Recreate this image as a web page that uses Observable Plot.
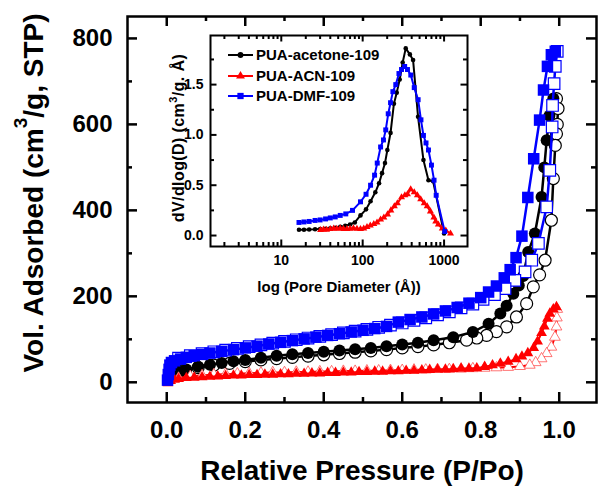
<!DOCTYPE html>
<html><head><meta charset="utf-8">
<script src="https://cdn.jsdelivr.net/npm/d3@7"></script>
<script src="https://cdn.jsdelivr.net/npm/@observablehq/plot@0.6"></script>
<style>
body{margin:0;background:#fff}
#chart{position:relative;width:598px;height:492px;overflow:hidden}
</style>
</head><body><div id="chart"></div>
<script>
// ---------------- Main isotherm data (P/Po, Vol. adsorbed) ----------------
const acetoneAdsP = [0.005,0.01,0.02,0.035,0.05,0.08,0.11,0.14,0.17,0.2,0.24,0.28,0.32,0.36,0.4,0.44,0.48,0.52,0.56,0.6,0.64,0.68,0.73,0.78,0.82,0.85,0.866,0.883,0.897,0.908,0.921,0.938,0.955,0.962,0.968,0.975,0.985];
const acetoneAdsV = [8,14,20,26,30,36,41,45,49,52,57,62,65,68,71,74,77,80,84,88,92,98,105,117,136,160,178,206,225,247,303,346,431,500,563,620,660];
const acetoneDesP = [0.993,0.997,0.995,0.993,0.99,0.985,0.98,0.964,0.95,0.934,0.917,0.891,0.866,0.84,0.815,0.79,0.764,0.72,0.68,0.64,0.6,0.56,0.52,0.48,0.44,0.4,0.36,0.32,0.28,0.24,0.2,0.16,0.12,0.08,0.04];
const acetoneDesV = [660,637,600,578,551,474,377,284,250,222,183,152,129,118,109,103,98,92,87,83,80,76,73,70,67,64,61,58,55,52,48,44,40,34,27];

const acnAdsP = [0.003,0.01,0.02,0.03,0.05,0.07,0.09,0.11,0.13,0.15,0.17,0.19,0.21,0.23,0.25,0.27,0.29,0.31,0.33,0.35,0.37,0.39,0.41,0.43,0.45,0.47,0.49,0.51,0.53,0.55,0.57,0.59,0.61,0.63,0.65,0.67,0.69,0.71,0.73,0.75,0.77,0.79,0.81,0.83,0.85,0.87,0.89,0.905,0.92,0.935,0.945,0.955,0.962,0.97,0.976,0.985,0.993];
const acnAdsV = [-2,3,6,8,10,11,12,13,14,15,16,16,17,17,18,18,19,19,20,20,21,21,22,22,23,23,24,24,25,25,26,26,27,27,28,29,30,30,31,32,32,33,36,40,44,48,54,60,68,80,95,115,130,148,160,170,175];
const acnDesP = [0.995,0.994,0.993,0.989,0.98,0.968,0.955,0.94,0.925,0.9,0.87,0.84,0.81,0.78,0.75,0.72,0.69,0.66,0.63,0.6,0.57,0.54,0.51,0.48,0.45,0.42,0.39,0.36,0.33,0.3,0.27,0.24,0.21,0.18,0.15,0.12,0.09,0.06,0.03];
const acnDesV = [170,150,129,105,82,67,55,46,40,37,35,34,33,32,31,30,30,29,29,28,28,27,27,26,26,25,25,24,24,23,23,22,21,20,19,18,16,14,10];

const dmfAdsP = [0.002,0.004,0.006,0.008,0.012,0.02,0.035,0.05,0.07,0.09,0.11,0.14,0.17,0.2,0.23,0.26,0.29,0.32,0.35,0.38,0.41,0.44,0.47,0.5,0.53,0.56,0.59,0.62,0.65,0.68,0.71,0.74,0.77,0.8,0.82,0.84,0.86,0.875,0.89,0.905,0.92,0.935,0.95,0.96,0.97,0.98,0.99];
const dmfAdsV = [5,18,30,40,46,50,54,58,62,65,68,72,76,80,84,89,93,97,101,105,109,113,117,121,125,130,140,146,152,159,166,174,184,197,210,224,243,262,290,340,430,520,610,680,735,762,770];
const dmfDesP = [0.995,0.99,0.987,0.983,0.982,0.976,0.968,0.947,0.93,0.913,0.887,0.862,0.835,0.806,0.78,0.75,0.72,0.69,0.66,0.63,0.6,0.57,0.54,0.51,0.48,0.45,0.42,0.39,0.36,0.33,0.3,0.27,0.24,0.21,0.18,0.15,0.12,0.09,0.06,0.03];
const dmfDesV = [770,735,695,644,594,493,408,323,284,257,237,218,204,193,182,173,164,157,150,144,138,133,128,123,119,115,111,107,103,99,95,91,87,83,79,75,71,67,62,56];

// ---------------- Inset: pore size distribution ----------------
const acetonePsdD = [16.5,19,22,26,30,35,40,46,53,61,70,80,94,110,125,143,159,173,188,201,220,242,262,285,310,338,380,416,479,558,643,733,1000];
const acetonePsdV = [0.057,0.058,0.06,0.062,0.065,0.068,0.072,0.078,0.086,0.097,0.11,0.13,0.2,0.26,0.34,0.43,0.52,0.62,0.72,0.85,1.02,1.31,1.42,1.55,1.72,1.86,1.8,1.745,1.18,0.75,0.55,0.54,0.02];
const acnPsdD = [30.4,33,36,40,44,48,53,58,64,70,77,85,94,103,113,124,137,150,166,182,202,222,245,267,300,330,355,389,430,470,516,570,620,680,750,790,850,950,1050,1200];
const acnPsdV = [0.055,0.06,0.058,0.064,0.07,0.068,0.072,0.066,0.064,0.068,0.072,0.068,0.064,0.07,0.085,0.1,0.115,0.13,0.16,0.18,0.21,0.25,0.29,0.32,0.38,0.4,0.41,0.46,0.43,0.4,0.36,0.32,0.29,0.24,0.18,0.14,0.11,0.07,0.05,0.02];
const dmfPsdD = [16.5,19,22,26,30,35,40,46,53,62,75,94,110,125,140,151,166,180,192,206,220,235,255,279,300,328,355,390,430,480,520,558,600,643,700,753,800,1018];
const dmfPsdV = [0.13,0.135,0.14,0.15,0.155,0.165,0.175,0.185,0.2,0.215,0.25,0.335,0.41,0.5,0.6,0.72,0.88,0.95,1.05,1.21,1.32,1.43,1.5,1.61,1.65,1.68,1.65,1.595,1.47,1.35,1.15,0.995,0.92,0.85,0.7,0.55,0.4,0.04];

// ---------------- Ticks & labels ----------------
const xMajor = [0, 0.2, 0.4, 0.6, 0.8, 1.0];
const xMinor = [0.1, 0.3, 0.5, 0.7, 0.9];
const yMajor = [0, 200, 400, 600, 800];
const yMinor = [100, 300, 500, 700];
const inXMajor = [10, 100, 1000];
const inXMinor = [2,3,4,5,6,7,8,9,20,30,40,50,60,70,80,90,200,300,400,500,600,700,800,900];
const inYMajor = [0, 0.5, 1.0, 1.5];
const inYMinor = [0.25, 0.75, 1.25, 1.75];
const seriesNames = ["PUA-acetone-109", "PUA-ACN-109", "PUA-DMF-109"];
const seriesColors = ["#000000", "#ff0000", "#0000ff"];
const openStroke = ["#000000", "#ff5050", "#0000ff"];
const seriesSymbols = ["circle", "triangle", "square"];

const FONT = "'Liberation Sans', Arial, Helvetica, sans-serif";
const zip = (xs, ys) => xs.map((x, i) => ({x, y: ys[i]}));

// ---------------- Main plot ----------------
const W = 598, H = 492, mL = 127, mR = 2, mT = 16, mB = 90;
const pW = W - mL - mR, pH = H - mT - mB;

const mainSeries = [
  {ads: zip(acetoneAdsP, acetoneAdsV), des: zip(acetoneDesP, acetoneDesV), i: 0, r: 6, sw: 2.5},
  {ads: zip(acnAdsP, acnAdsV), des: zip(acnDesP, acnDesV), i: 1, r: 4, sw: 2},
  {ads: zip(dmfAdsP, dmfAdsV), des: zip(dmfDesP, dmfDesV), i: 2, r: 6.5, sw: 2.5}
];
const dataMarks = [];
for (const s of mainSeries) {
  const c = seriesColors[s.i], sym = seriesSymbols[s.i];
  dataMarks.push(Plot.line(s.des, {x: "x", y: "y", stroke: c, strokeWidth: s.sw}));
  dataMarks.push(Plot.dot(s.des, {x: "x", y: "y", symbol: sym, r: s.r, fill: "white", stroke: openStroke[s.i], strokeWidth: s.i === 1 ? 0.8 : 1.2}));
  dataMarks.push(Plot.line(s.ads, {x: "x", y: "y", stroke: c, strokeWidth: s.sw}));
  dataMarks.push(Plot.dot(s.ads, {x: "x", y: "y", symbol: sym, r: s.r, fill: c, stroke: "none"}));
}

const main = Plot.plot({
  width: W, height: H,
  marginLeft: mL, marginRight: mR, marginTop: mT, marginBottom: mB,
  style: {fontFamily: FONT, background: "white", overflow: "visible"},
  x: {domain: [-0.1, 1.095]},
  y: {domain: [-47, 851]},
  marks: [
    Plot.axisX(xMajor, {tickSize: 0, tickPadding: 18, tickFormat: d3.format(".1f"), fontSize: 24, fontWeight: "bold", label: null}),
    Plot.axisY(yMajor, {tickSize: 0, tickPadding: 15, tickFormat: d3.format("d"), fontSize: 24, fontWeight: "bold", label: null}),
    ...dataMarks,
    Plot.ruleX(xMajor, {x: d => d, insetTop: pH - 10, strokeWidth: 2.5}),
    Plot.ruleX(xMinor, {x: d => d, insetTop: pH - 5, strokeWidth: 2.5}),
    Plot.ruleX(xMajor, {x: d => d, insetBottom: pH - 10, strokeWidth: 2.5}),
    Plot.ruleX(xMinor, {x: d => d, insetBottom: pH - 5, strokeWidth: 2.5}),
    Plot.ruleY(yMajor, {y: d => d, insetRight: pW - 10, strokeWidth: 2.5}),
    Plot.ruleY(yMinor, {y: d => d, insetRight: pW - 5, strokeWidth: 2.5}),
    Plot.ruleY(yMajor, {y: d => d, insetLeft: pW - 10, strokeWidth: 2.5}),
    Plot.ruleY(yMinor, {y: d => d, insetLeft: pW - 5, strokeWidth: 2.5}),
    Plot.frame({strokeWidth: 2.5}),
    Plot.text(["Relative Pressure (P/Po)"], {frameAnchor: "bottom", dy: 69, fontSize: 28, fontWeight: "bold", lineAnchor: "middle", text: d => d})
  ]
});
document.getElementById("chart").appendChild(main);

// Y title with superscript
{
  const t = d3.select(main).append("text")
    .attr("transform", "translate(43,193) rotate(-90)")
    .attr("text-anchor", "middle")
    .attr("font-family", FONT).attr("font-weight", "bold").attr("font-size", 28)
    .attr("fill", "black");
  t.append("tspan").text("Vol. Adsorbed (cm");
  t.append("tspan").attr("dy", -16).attr("font-size", 19).text("3");
  t.append("tspan").attr("dy", 16).text("/g, STP)");
}

// ---------------- Inset ----------------
const IX = 150, IY = 25, IW = 325, IH = 280, iL = 60, iR = 8, iT = 10, iB = 59;
const ipW = IW - iL - iR, ipH = IH - iT - iB;
const insetSeries = [
  {d: zip(acetonePsdD, acetonePsdV), i: 0, r: 2.3},
  {d: zip(acnPsdD, acnPsdV), i: 1, r: 2.6},
  {d: zip(dmfPsdD, dmfPsdV), i: 2, r: 2.8}
];
const insetMarks = [];
for (const s of insetSeries) {
  const c = seriesColors[s.i];
  insetMarks.push(Plot.line(s.d, {x: "x", y: "y", stroke: c, strokeWidth: 2}));
  insetMarks.push(Plot.dot(s.d, {x: "x", y: "y", symbol: seriesSymbols[s.i], r: s.r, fill: c, stroke: "none"}));
}
const inset = Plot.plot({
  width: IW, height: IH,
  marginLeft: iL, marginRight: iR, marginTop: iT, marginBottom: iB,
  style: {fontFamily: FONT, background: "transparent", overflow: "visible"},
  x: {type: "log", domain: [1.35, 1940]},
  y: {domain: [-0.109, 1.988]},
  marks: [
    Plot.frame({fill: "white", stroke: "none"}),
    Plot.axisX(inXMajor, {tickSize: 0, tickPadding: 9, tickFormat: d3.format("d"), fontSize: 14, fontWeight: "bold", label: null}),
    Plot.axisY(inYMajor, {tickSize: 0, tickPadding: 7, tickFormat: d3.format(".1f"), fontSize: 14, fontWeight: "bold", label: null}),
    ...insetMarks,
    Plot.ruleX(inXMajor, {x: d => d, insetTop: ipH - 6.5, strokeWidth: 2}),
    Plot.ruleX(inXMinor, {x: d => d, insetTop: ipH - 4, strokeWidth: 2}),
    Plot.ruleX(inXMajor, {x: d => d, insetBottom: ipH - 6.5, strokeWidth: 2}),
    Plot.ruleX(inXMinor, {x: d => d, insetBottom: ipH - 4, strokeWidth: 2}),
    Plot.ruleY(inYMajor, {y: d => d, insetRight: ipW - 6.5, strokeWidth: 2}),
    Plot.ruleY(inYMinor, {y: d => d, insetRight: ipW - 4, strokeWidth: 2}),
    Plot.ruleY(inYMajor, {y: d => d, insetLeft: ipW - 6.5, strokeWidth: 2}),
    Plot.ruleY(inYMinor, {y: d => d, insetLeft: ipW - 4, strokeWidth: 2}),
    Plot.frame({strokeWidth: 2}),
    Plot.text(["log (Pore Diameter (\u00C5))"], {frameAnchor: "bottom", dy: 41, fontSize: 15, fontWeight: "bold", lineAnchor: "middle", text: d => d})
  ]
});
inset.style.position = "absolute";
inset.style.left = IX + "px";
inset.style.top = IY + "px";
document.getElementById("chart").appendChild(inset);

// Inset y title
{
  const t = d3.select(inset).append("text")
    .attr("transform", `translate(${184 - IX},${138 - IY}) rotate(-90)`)
    .attr("text-anchor", "middle")
    .attr("font-family", FONT).attr("font-weight", "bold").attr("font-size", 16)
    .attr("letter-spacing", 0.4)
    .attr("fill", "black");
  t.append("tspan").text("dV/dlog(D) (cm");
  t.append("tspan").attr("dy", -7).attr("font-size", 11).text("3");
  t.append("tspan").attr("dy", 7).text("/g. \u00C5)");
}

// Inset legend
{
  const lg = d3.select(inset).append("g").attr("font-family", FONT).attr("font-weight", "bold").attr("font-size", 15).attr("text-anchor", "start");
  const rows = [55, 76, 96];
  const symMap = {circle: d3.symbolCircle, triangle: d3.symbolTriangle, square: d3.symbolSquare};
  const rr = [2.3, 2.6, 2.8];
  seriesNames.forEach((name, i) => {
    const y = rows[i] - IY;
    lg.append("line").attr("x1", 228 - IX).attr("x2", 253 - IX).attr("y1", y).attr("y2", y)
      .attr("stroke", seriesColors[i]).attr("stroke-width", 2);
    lg.append("path").attr("transform", `translate(${240.5 - IX},${y})`)
      .attr("d", d3.symbol(symMap[seriesSymbols[i]], Math.PI * rr[i] * rr[i] * 1.6)())
      .attr("fill", seriesColors[i]);
    lg.append("text").attr("x", 256 - IX).attr("y", y).attr("dy", "0.36em").attr("fill", "black")
      .attr("text-anchor", "start").text(name);
  });
}
</script></body></html>
